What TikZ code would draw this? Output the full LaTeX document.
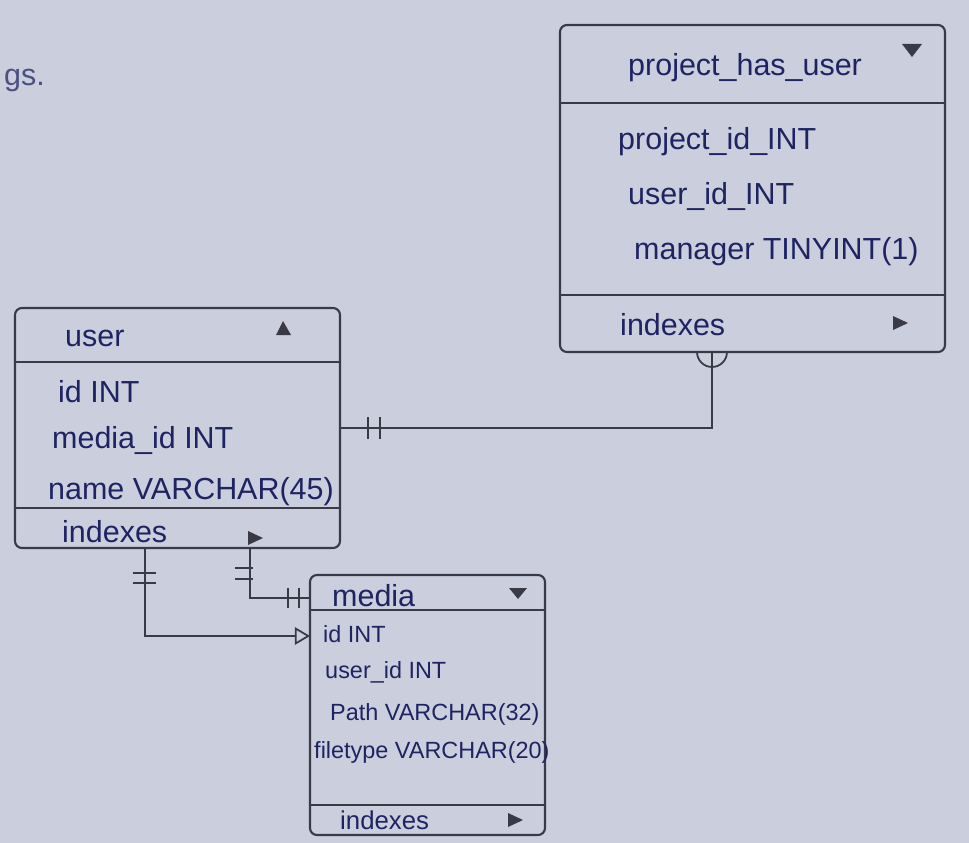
\documentclass[tikz,border=0pt]{standalone}
\usepackage{fontspec}
\setmainfont{Liberation Sans}
\usepackage{xcolor}
\usetikzlibrary{arrows.meta,calc,fit,positioning}
\definecolor{paper}{RGB}{203,206,221}
\definecolor{ink}{RGB}{30,36,98}
\definecolor{pencil}{RGB}{58,58,70}

\begin{document}
\begin{tikzpicture}[x=0.03cm,y=-0.03cm,
    tbl/.style={draw=pencil,line width=1.8pt,rounded corners=6pt,inner sep=0pt},
    rule/.style={draw=pencil,line width=1.6pt},
    conn/.style={draw=pencil,line width=1.5pt},
    txt/.style={anchor=west,text=ink,inner sep=0pt,font=\fontsize{26}{30}\selectfont},
    small/.style={txt,font=\fontsize{20}{24}\selectfont},
    tri/.style={fill=pencil}]
    \fill[paper] (0,0) rectangle (969,843);
    \useasboundingbox (0,0) rectangle (969,843);
    \node[txt,text=ink!80] (note) at (4,80) {gs.};

    % tables
    \node[tbl,fit={(560,25) (945,352)}] (phu) {};
    \node[tbl,fit={(15,308) (340,548)}] (user) {};
    \node[tbl,fit={(310,575) (545,835)}] (media) {};
    \foreach \t/\y in {phu/103,phu/295,user/362,user/508,media/610,media/805}
        \draw[rule] (\t.west |- 0,\y) -- (\t.east |- 0,\y);

    % project_has_user
    \node[txt] (phu-title) at (628,68) {project\_has\_user};
    \fill[tri] (902,44) -- (922,44) -- (912,57) -- cycle;
    \node[txt] (phu-a1) at (618,142) {project\_id\_INT};
    \node[txt] (phu-a2) at (628,196) {user\_id\_INT};
    \node[txt] (phu-a3) at (634,252) {manager TINYINT(1)};
    \node[txt] (phu-idx) at (620,325) {indexes};
    \fill[tri] (893,316) -- (893,330) -- (908,323) -- cycle;

    % user
    \node[txt] (user-title) at (65,338) {user};
    \fill[tri] (276,335) -- (291,335) -- (283,321) -- cycle;
    \node[txt] (user-a1) at (58,392) {id INT};
    \node[txt] (user-a2) at (52,440) {media\_id INT};
    \node[txt] (user-a3) at (48,492) {name VARCHAR(45)};
    \node[txt] (user-idx) at (62,532) {indexes};
    \fill[tri] (248,531) -- (248,545) -- (263,538) -- cycle;

    % media
    \node[txt] (media-title) at (332,596) {media};
    \fill[tri] (509,588) -- (527,588) -- (518,599) -- cycle;
    \node[small] (media-a1) at (323,634) {id INT};
    \node[small] (media-a2) at (325,672) {user\_id INT};
    \node[small] (media-a3) at (330,714) {Path VARCHAR(32)};
    \node[small] (media-a4) at (314,752) {filetype VARCHAR(20)};
    \node[txt,font=\fontsize{22}{26}\selectfont] (media-idx) at (340,820) {indexes};
    \fill[tri] (508,813) -- (508,827) -- (523,820) -- cycle;

    % user -- project_has_user
    \coordinate (phu-in) at (712,352);
    \draw[conn] (user.east) -| (phu-in);
    \draw[conn] ($(user.east)+(27,-11)$) -- ++(0,22) ($(user.east)+(39,-11)$) -- ++(0,22);
    \draw[conn] ($(phu-in)+(-15,0)$) arc[start angle=180,end angle=0,radius=15];

    % user -- media
    \coordinate (u-b1) at (145,548);
    \coordinate (m-in1) at (310,636);
    \draw[conn,-{Triangle[open,length=13pt,width=15pt]}] (u-b1) |- (m-in1);
    \draw[conn] ($(u-b1)+(-12,25)$) -- ++(23,0) ($(u-b1)+(-12,35)$) -- ++(23,0);
    \coordinate (u-b2) at (250,548);
    \coordinate (m-in2) at (310,598);
    \draw[conn] (u-b2) |- (m-in2);
    \draw[conn] ($(u-b2)+(-15,20)$) -- ++(18,0) ($(u-b2)+(-15,31)$) -- ++(18,0);
    \draw[conn] ($(m-in2)+(-22,-10)$) -- ++(0,20) ($(m-in2)+(-11,-10)$) -- ++(0,20);
\end{tikzpicture}
\end{document}
